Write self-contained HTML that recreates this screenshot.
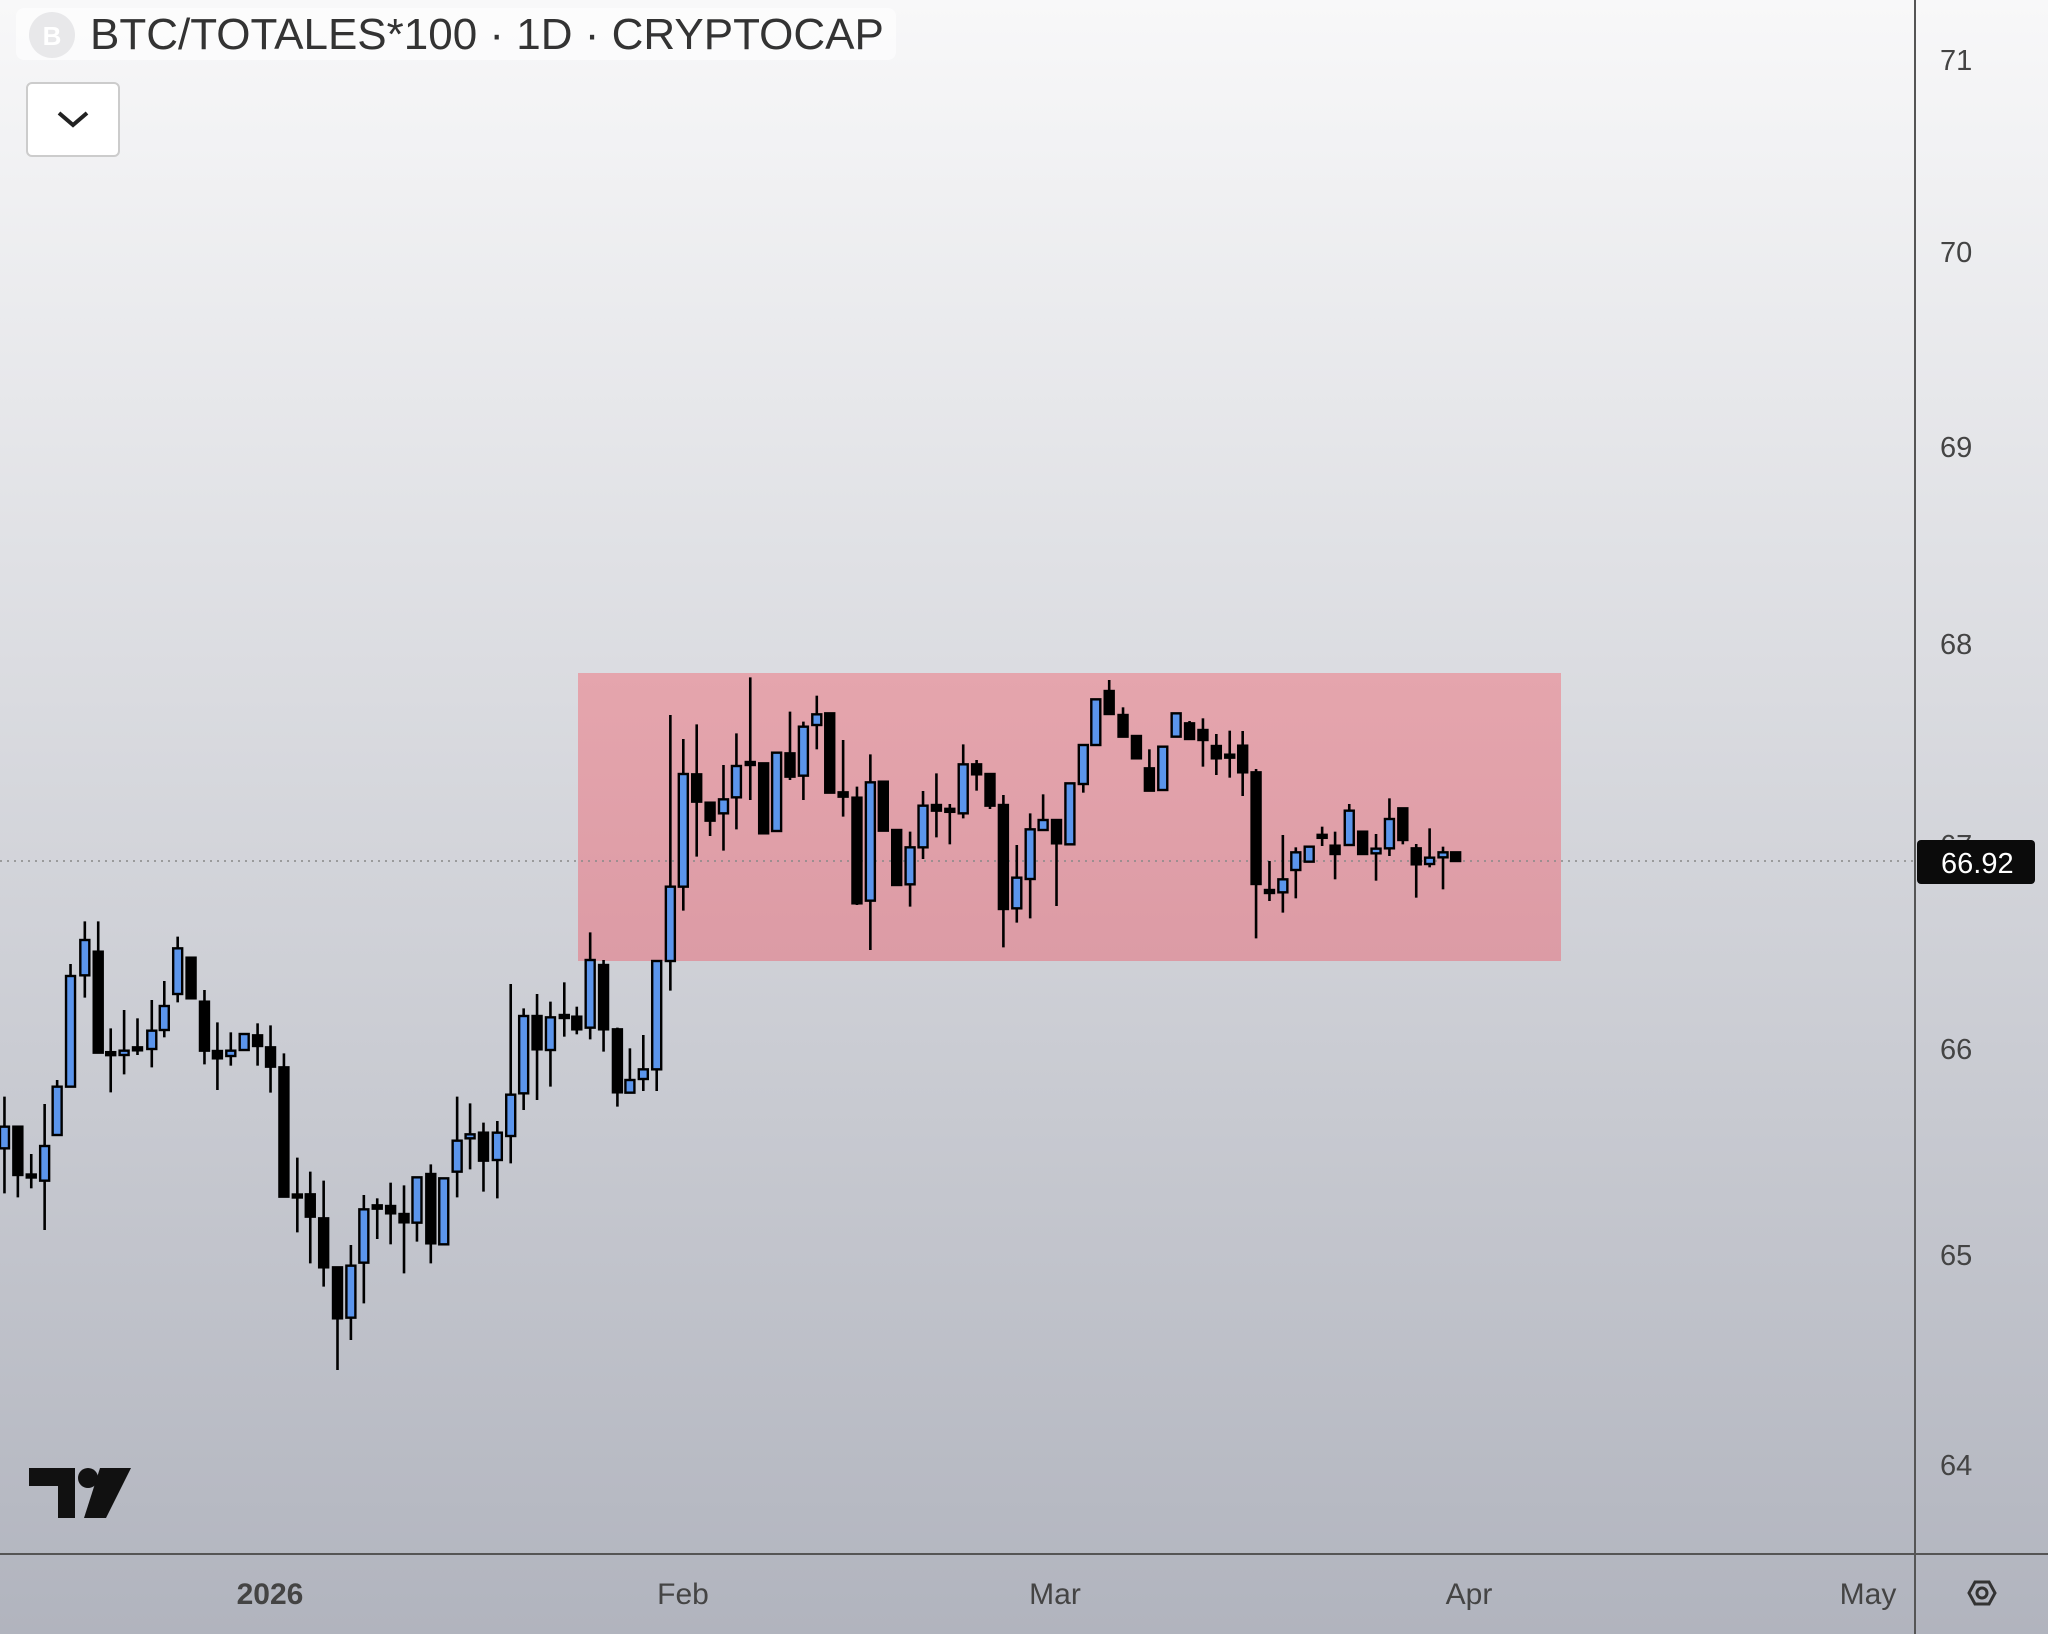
<!DOCTYPE html>
<html><head><meta charset="utf-8"><style>
html,body{margin:0;padding:0;width:2048px;height:1634px;overflow:hidden}
svg{display:block}
text{font-family:"Liberation Sans",sans-serif}
</style></head><body>
<svg id="s" width="2048" height="1634" viewBox="0 0 2048 1634" xmlns="http://www.w3.org/2000/svg">
<defs>
<linearGradient id="bg" x1="0" y1="0" x2="0" y2="1"><stop offset="0" stop-color="#f8f8f9"/><stop offset="1" stop-color="#b1b4be"/></linearGradient>
<linearGradient id="pk" x1="0" y1="0" x2="0" y2="1"><stop offset="0" stop-color="#e5a5ad"/><stop offset="1" stop-color="#dc9ba5"/></linearGradient>
</defs>
<rect width="2048" height="1634" fill="url(#bg)"/>
<rect x="578" y="673" width="983" height="288" fill="url(#pk)"/>
<line x1="0" y1="861" x2="1915" y2="861" stroke="#888" stroke-width="1.5" stroke-dasharray="2,5"/>
<g id="c"></g>
<line x1="1915" y1="0" x2="1915" y2="1634" stroke="#555" stroke-width="2"/>
<line x1="0" y1="1554" x2="2048" y2="1554" stroke="#555" stroke-width="2"/>
<g font-size="29" fill="#444">
<text x="1940" y="70">71</text><text x="1940" y="262">70</text><text x="1940" y="457">69</text>
<text x="1940" y="654">68</text><text x="1940" y="855">67</text><text x="1940" y="1059">66</text>
<text x="1940" y="1265">65</text><text x="1940" y="1475">64</text>
</g>
<rect x="1917" y="840" width="118" height="44" rx="4" fill="#0b0b0b"/>
<text x="1941" y="873" font-size="29" fill="#fff">66.92</text>
<g font-size="30" fill="#444" text-anchor="middle">
<text x="270" y="1604" font-weight="bold">2026</text><text x="683" y="1604">Feb</text>
<text x="1055" y="1604">Mar</text><text x="1469" y="1604">Apr</text><text x="1868" y="1604">May</text>
</g>
<polygon points="1969,1593 1975,1582 1989,1582 1995,1593 1989,1604 1975,1604" fill="none" stroke="#333" stroke-width="3"/>
<circle cx="1982" cy="1593" r="5" fill="none" stroke="#333" stroke-width="3"/>
<rect x="16" y="8" width="880" height="52" rx="8" fill="#fff" opacity="0.6"/>
<circle cx="52" cy="35" r="23" fill="#e8e8ea"/>
<text x="52" y="45" font-size="26" fill="#fff" text-anchor="middle" font-weight="bold">B</text>
<text x="90" y="49" font-size="44" fill="#333">BTC/TOTALES*100 · 1D · CRYPTOCAP</text>
<rect x="27" y="83" width="92" height="73" rx="5" fill="#fff" stroke="#ccc" stroke-width="2"/>
<polyline points="59,113 73,125 87,113" fill="none" stroke="#222" stroke-width="4"/>
<g fill="#111">
<path d="M29,1468 H75 V1518 H58 V1486 H29 Z"/>
<circle cx="88" cy="1478" r="10"/>
<path d="M100,1468 H131 L106,1518 H84 Z"/>
</g>
</svg>
<script>
var z1=[[10,590,680,745,880,1],[40,680,680,825,892,0],[70,762,826,830,865,0],[100,612,738,842,990,1],[128,540,560,705,705,1],[158,192,228,560,560,1],[190,64,120,226,293,1],[220,64,155,458,458,0],[248,385,458,464,577,0],[278,330,452,465,523,1],[308,355,444,449,465,0],[340,300,392,447,502,1],[368,243,318,390,412,1],[398,110,145,282,307,1],[428,173,173,295,295,0],[458,270,305,452,493,0],[487,367,453,475,570,0],[517,397,452,468,497,1],[547,400,402,450,450,1],[577,370,406,438,497,0],[606,376,442,500,578,0],[636,460,502,890,890,0],[666,773,884,892,997,0],[695,815,883,950,1090,0],[725,842,955,1102,1160,0],[756,1102,1102,1255,1410,0],[786,1035,1097,1253,1320,1],[815,885,928,1088,1210,1],[845,895,916,926,1017,0],[875,848,918,940,1033,0],[905,856,942,967,1120,0],[934,832,832,968,1025,1],[965,793,822,1030,1090,0],[994,835,835,1033,1033,1],[1024,590,722,815,892,1],[1053,610,703,715,808,1],[1083,668,698,782,875,0],[1114,663,698,780,895,1],[1144,252,584,708,790,1],[1173,325,348,580,630,1],[1203,282,348,448,600,0],[1233,305,352,450,560,1],[1264,247,346,353,410,0],[1292,320,350,388,403,0],[1322,97,180,383,418,1],[1352,180,195,388,455,0],[1383,383,388,577,620,0],[1411,445,540,578,578,1],[1441,405,508,537,573,1],[1471,183,183,508,573,1]];
var z2=[[68,165,680,903,992,1],[97,237,342,680,752,1],[127,193,343,425,590,0],[157,428,428,482,528,0],[187,315,418,460,572,1],[216,220,318,412,508,1],[247,52,307,314,420,0],[277,310,310,520,520,0],[306,275,278,513,513,1],[336,155,280,350,360,0],[366,185,200,347,420,1],[396,107,163,195,268,1],[425,160,160,398,398,0],[455,240,397,410,470,0],[486,380,413,730,735,0],[516,283,367,722,870,1],[545,365,365,512,512,0],[575,510,510,675,675,0],[605,515,562,673,740,1],[634,393,437,562,597,1],[664,340,435,452,532,0],[694,432,449,453,553,0],[724,253,313,460,475,1],[754,300,313,343,392,0],[784,342,342,437,447,0],[814,405,435,747,862,0],[844,555,653,745,788,1],[874,460,508,657,775,1],[903,403,480,510,510,1],[933,480,480,550,738,0],[963,370,370,553,553,1],[993,255,255,372,398,1],[1021,118,118,255,255,1],[1051,60,93,162,165,0],[1082,142,165,230,230,0],[1112,228,228,295,295,0],[1141,268,325,392,392,0],[1171,260,260,390,390,1],[1201,160,160,230,230,1],[1231,183,190,237,240,0],[1261,175,210,240,320,0],[1291,222,258,295,345,0],[1321,212,285,292,353,0],[1350,213,257,337,408,0],[1380,327,337,672,835,0],[1410,603,691,698,723,0],[1440,525,658,697,758,1],[1469,562,577,630,715,1],[1499,558,560,605,605,1],[1528,500,525,533,558,0],[1557,515,557,582,658,0]];
var z3=[[390,432,452,555,555,1],[425,515,515,582,585,0],[460,522,566,580,662,1],[495,415,477,565,588,1],[530,445,445,540,553,0],[565,552,565,613,713,0],[600,505,593,612,622,1],[635,560,577,592,688,1],[668,577,577,603,603,0]];
var out='';
function add(a,ox,sx,oy){
 a.forEach(function(c){
  var x=ox+c[0]/sx,h=oy+c[1]/3,t=oy+c[2]/3,b=oy+c[3]/3,l=oy+c[4]/3;
  if(b-t<3){var m=(t+b)/2;t=m-1.5;b=m+1.5;}
  out+='<line x1="'+x+'" y1="'+h+'" x2="'+x+'" y2="'+l+'" stroke="#000" stroke-width="2.6"/>';
  out+='<rect x="'+(x-4.5)+'" y="'+t+'" width="9" height="'+(b-t)+'" fill="'+(c[5]?'#5b95ec':'#000')+'" stroke="#000" stroke-width="2.4"/>';
 });
}
add(z1,0,2.24,900);add(z2,640,2.24,660);add(z3,1200,2.613,660);
document.getElementById('c').innerHTML=out;
</script>
</body></html>
